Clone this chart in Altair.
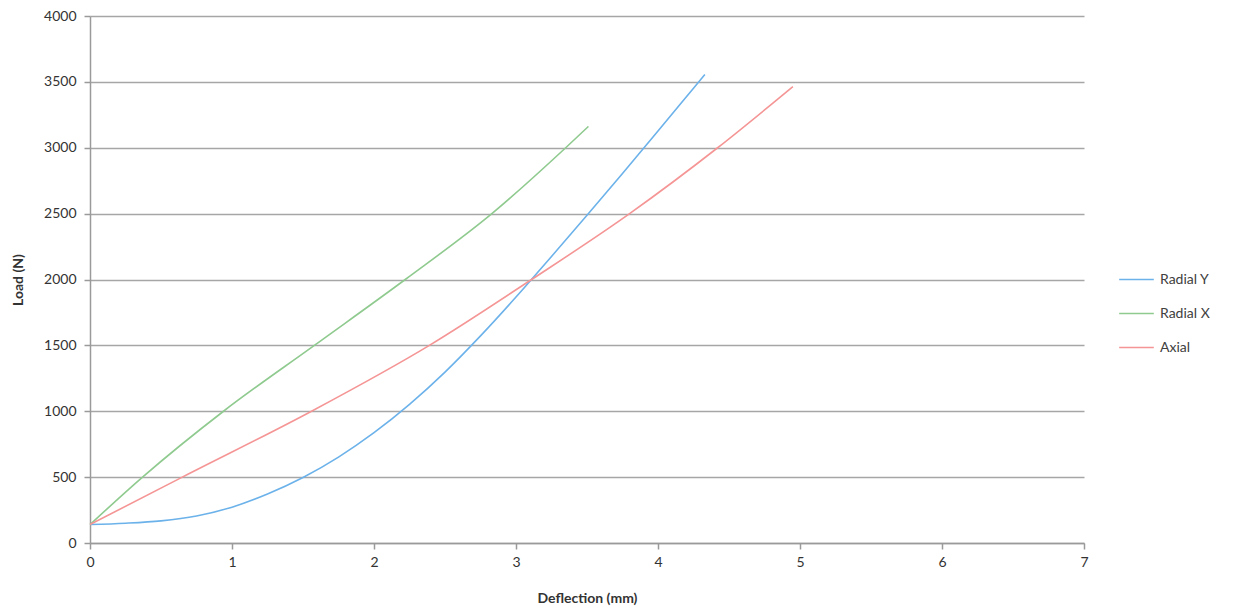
import altair as alt
import pandas as pd

series_names = ["Radial Y", "Radial X", "Axial"]
colors = ["#6cb2ea", "#8fca8f", "#f59595"]

radial_y_x = [0, 0.25, 0.5, 0.75, 1.0, 1.25, 1.5, 1.75, 2.0, 2.25, 2.5, 2.75, 3.0, 3.25, 3.5, 3.75, 4.0, 4.25, 4.33]
radial_y_y = [140, 150, 168, 205, 272, 372, 497, 652, 837, 1052, 1297, 1572, 1867, 2175, 2487, 2805, 3127, 3452, 3556]

radial_x_x = [0, 0.37, 0.94, 1.58, 2.22, 2.83, 3.35, 3.51]
radial_x_y = [140, 500, 1000, 1500, 2000, 2500, 3000, 3162]

axial_x = [0, 0.65, 1.56, 2.39, 3.11, 3.80, 4.42, 4.95]
axial_y = [140, 500, 1000, 1500, 2000, 2500, 3000, 3464]

rows = []
for name, xs, ys in [("Radial Y", radial_y_x, radial_y_y),
                     ("Radial X", radial_x_x, radial_x_y),
                     ("Axial", axial_x, axial_y)]:
    for i, (a, b) in enumerate(zip(xs, ys)):
        rows.append({"series": name, "x": a, "y": b, "order": i})
df = pd.DataFrame(rows)

font = "Lato"

chart = alt.Chart(df).mark_line(strokeWidth=1.6, interpolate="monotone").encode(
    x=alt.X("x:Q", title="Deflection (mm)",
            scale=alt.Scale(domain=[0, 7], nice=False),
            axis=alt.Axis(values=[0, 1, 2, 3, 4, 5, 6, 7], grid=False, tickSize=6,
                          labelPadding=6, titlePadding=22, format="d",
                          labelFlush=False)),
    y=alt.Y("y:Q", title="Load (N)",
            scale=alt.Scale(domain=[0, 4000], nice=False),
            axis=alt.Axis(values=list(range(0, 4001, 500)), grid=True, tickSize=6,
                          labelPadding=8, titlePadding=18, format="d",
                          labelFlush=False)),
    color=alt.Color("series:N", title=None,
                    scale=alt.Scale(domain=series_names, range=colors),
                    legend=alt.Legend(orient="none", legendX=1028, legendY=245,
                                      symbolType="stroke", symbolSize=1200,
                                      symbolStrokeWidth=1.6, rowPadding=8,
                                      labelOffset=5,
                                      labelFontSize=14, labelFont=font,
                                      labelColor="#404040")),
    order="order:Q",
).properties(
    width=994, height=527,
    autosize=alt.AutoSizeParams(type="none"),
    padding={"left": 82, "top": 8, "right": 141, "bottom": 63},
).configure_view(stroke=None).configure_axis(
    domainColor="#9a9a9a", tickColor="#9a9a9a", gridColor="#a6a6a6", gridWidth=1.5,
    domainWidth=1.5, tickWidth=1.5, labelFont=font, labelFontSize=14, labelColor="#333333",
    titleFont=font, titleFontSize=14, titleFontWeight="bold", titleColor="#333333",
)

chart.save("out.html", embed_options={"renderer": "svg", "actions": False})
